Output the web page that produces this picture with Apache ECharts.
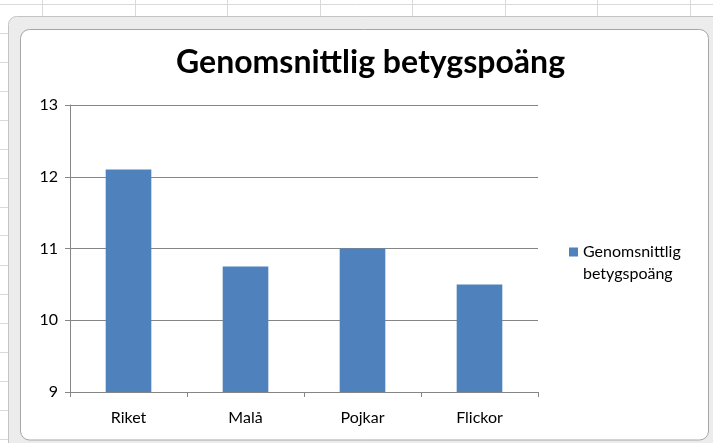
<!DOCTYPE html>
<html>
<head>
<meta charset="utf-8">
<script src="https://cdn.jsdelivr.net/npm/echarts@6/dist/echarts.min.js"></script>
<style>html,body{margin:0;padding:0;background:#fff;}#c{width:713px;height:443px;}</style>
</head>
<body>
<div id="c"></div>
<script>
const categories = ['Riket', 'Malå', 'Pojkar', 'Flickor'];
const values = [12.1, 10.75, 11.0, 10.5];
const seriesName = 'Genomsnittlig betygspoäng';
const yTicks = [9, 10, 11, 12, 13];

const chart = echarts.init(document.getElementById('c'));
const font = 'Lato, "Open Sans", sans-serif';

const bg = [];
// spreadsheet cell lines
[42, 135, 227, 320, 412, 505, 597, 690].forEach(x => bg.push({type:'line', z:-10, shape:{x1:x+0.5,y1:0,x2:x+0.5,y2:443}, style:{stroke:'#d9d9d9', lineWidth:1}}));
[4, 33, 62, 91, 120, 149, 178, 207, 235, 265, 294, 323, 352, 381, 410, 439].forEach(y => bg.push({type:'line', z:-10, shape:{x1:0,y1:y+0.5,x2:713,y2:y+0.5}, style:{stroke:'#d9d9d9', lineWidth:1}}));
// chart frame
bg.push({type:'rect', z:-9, shape:{x:8.5, y:16.5, width:720, height:440, r:8}, style:{fill:'#ececec', stroke:'#c4c4c4', lineWidth:1}});
bg.push({type:'rect', z:-8, shape:{x:20.5, y:29.5, width:688, height:410.5, r:9}, style:{fill:'#ffffff', stroke:'#a6a6a6', lineWidth:1}});

chart.setOption({
  animation: false,
  backgroundColor: '#ffffff',
  graphic: bg,
  title: {
    text: 'Genomsnittlig betygspoäng',
    left: 171, top: 42,
    textStyle: {fontFamily: font, fontWeight: 'bold', fontSize: 32, color: '#000'}
  },
  legend: {
    left: 564, top: 236,
    orient: 'vertical',
    itemWidth: 9, itemHeight: 31,
    icon: 'path://M0,0L9,0L9,9L0,9Z M0,31L0,31',
    itemGap: 5,
    formatter: () => 'Genomsnittlig\nbetygspoäng',
    textStyle: {fontFamily: font, fontSize: 16, color: '#000', lineHeight: 22}
  },
  grid: {left: 70, right: 175, top: 105, bottom: 51},
  xAxis: {
    type: 'category',
    data: categories,
    axisLine: {lineStyle: {color: '#868686'}},
    axisTick: {show: true, length: 5, interval: 0, lineStyle: {color: '#868686'}},
    axisLabel: {fontFamily: font, fontSize: 16, color: '#000', margin: 18}
  },
  yAxis: {
    type: 'value',
    min: yTicks[0], max: yTicks[yTicks.length - 1], interval: 1,
    axisLine: {show: true, lineStyle: {color: '#868686'}},
    axisTick: {show: true, length: 5, lineStyle: {color: '#868686'}},
    splitLine: {lineStyle: {color: '#868686'}},
    axisLabel: {fontFamily: font, fontSize: 16, color: '#000', margin: 12}
  },
  series: [{
    name: seriesName,
    type: 'bar',
    data: values,
    barWidth: '39%',
    itemStyle: {color: '#4f81bd'}
  }]
});
</script>
</body>
</html>
